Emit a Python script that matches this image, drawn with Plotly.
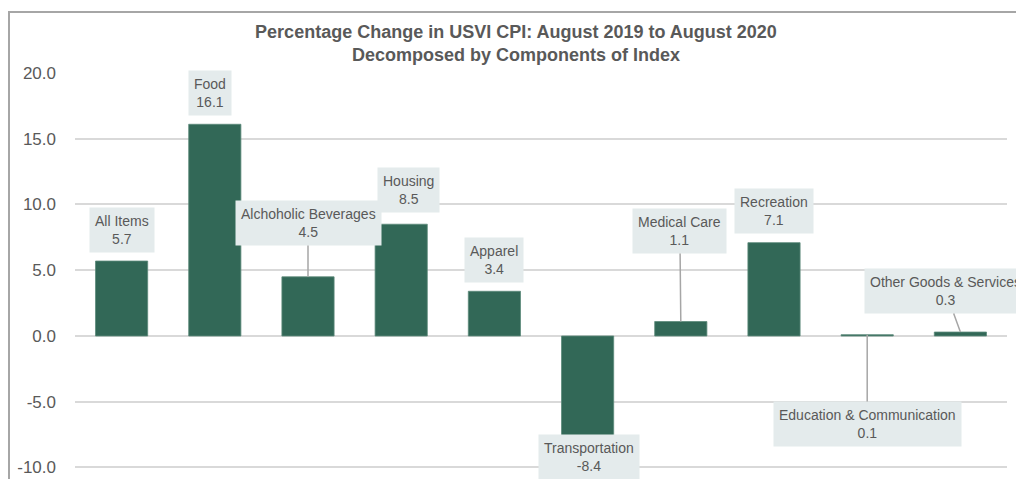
import plotly.graph_objects as go

categories = ["All Items", "Food", "Alchoholic Beverages", "Housing", "Apparel",
              "Transportation", "Medical Care", "Recreation",
              "Education & Communication", "Other Goods & Services"]
values = [5.7, 16.1, 4.5, 8.5, 3.4, -8.4, 1.1, 7.1, 0.1, 0.3]
tick_vals = [-10, -5, 0, 5, 10, 15, 20]
tick_text = ["-10.0", "-5.0", "0.0", "5.0", "10.0", "15.0", "20.0"]

# label placement (category index offset, y position, leader line?)
label_pos = [
    (0.0, 8.06, False),
    (-0.05, 18.48, False),
    (0.0, 8.59, True),
    (0.08, 11.10, False),
    (0.0, 5.78, False),
    (0.015, -9.2, False),
    (-0.01, 7.98, True),
    (0.0, 9.5, False),
    (0.0, -6.69, True),
    (-0.16, 3.42, True),
]

NARROW = "Liberation Sans Narrow, Arial Narrow, sans-serif"
TXT = "#595959"
x_idx = list(range(len(categories)))

fig = go.Figure()
fig.add_trace(go.Bar(
    x=x_idx, y=values, width=0.56,
    marker=dict(color="#326857", line=dict(color="#5d8a7b", width=0.8)),
    hoverinfo="skip",
))

annotations = []
for i, (cat, v, (dx, ly, arrow)) in enumerate(zip(categories, values, label_pos)):
    txt = f"{cat}<br>{v:.1f}"
    common = dict(
        text=txt, font=dict(family=NARROW, size=14, color=TXT),
        bgcolor="#e4ebec", borderpad=5, align="center",
        xanchor="center", yanchor="middle",
    )
    if arrow:
        annotations.append(dict(
            x=i, y=v, ax=i + dx, ay=ly, axref="x", ayref="y",
            xref="x", yref="y", showarrow=True, arrowhead=0,
            arrowwidth=1.5, arrowcolor="#a6a6a6", standoff=0, **common))
    else:
        annotations.append(dict(
            x=i + dx, y=ly, xref="x", yref="y", showarrow=False, **common))

fig.update_layout(
    width=1016, height=471,
    margin=dict(l=67, r=17, t=65, b=1),
    paper_bgcolor="white", plot_bgcolor="white",
    showlegend=False,
    title=dict(
        text="<b>Percentage Change in USVI CPI: August 2019 to August 2020<br>Decomposed by Components of Index</b>",
        x=0.5, xanchor="center", xref="container",
        y=1 - 30 / 471, yanchor="top", yref="container",
        font=dict(family=NARROW, size=18, color=TXT),
    ),
    xaxis=dict(range=[-0.5, 9.5], showticklabels=False, showgrid=False,
               zeroline=False, fixedrange=True),
    yaxis=dict(range=[-10.8, 20.0], tickvals=tick_vals, ticktext=tick_text,
               showgrid=True, gridcolor="#d9d9d9", gridwidth=1.5,
               zeroline=True, zerolinecolor="#d9d9d9", zerolinewidth=1.5,
               tickfont=dict(family="Liberation Sans, Arial, sans-serif", size=17, color=TXT),
               ticklabelstandoff=18, showline=False),
    annotations=annotations,
    shapes=[dict(type="rect", xref="paper", yref="paper",
                 x0=(1 - 67) / 932, x1=1.2, y0=-0.2, y1=(470 - 4) / 405,
                 line=dict(color="#a6a6a6", width=2), fillcolor="rgba(0,0,0,0)",
                 layer="below")],
)

fig.write_html("out.html")
